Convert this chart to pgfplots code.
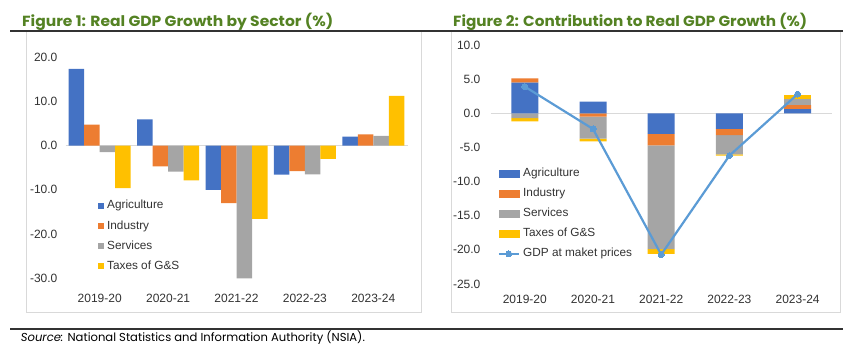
\documentclass[border=0pt]{standalone}
\usepackage{pgfplots}
\pgfplotsset{compat=1.18}
\usepackage{fontspec}
\setmainfont{Liberation Sans}
\newfontfamily\titlefont{Poppins}
\definecolor{cAgri}{RGB}{68,114,196}
\definecolor{cInd}{RGB}{237,125,49}
\definecolor{cSer}{RGB}{165,165,165}
\definecolor{cTax}{RGB}{255,192,0}
\definecolor{cGDP}{RGB}{91,155,213}
\definecolor{cTitle}{RGB}{84,130,35}
\definecolor{cFrame}{RGB}{217,217,217}
\definecolor{cText}{RGB}{50,50,50}
\definecolor{cRule}{RGB}{50,50,50}
\pgfplotsset{
  chartbase/.style={
    scale only axis,
    xmin=-0.5, xmax=4.5,
    axis line style={draw=none},
    tick style={draw=none},
    xtick={0,1,2,3,4},
    xticklabels={2019-20,2020-21,2021-22,2022-23,2023-24},
    ticklabel style={font=\fontsize{12}{14}\selectfont, text=cText},
    xticklabel style={yshift=-8pt},
    extra y ticks={0},
    extra y tick labels={},
    extra y tick style={ymajorgrids=true, major grid style={cFrame, line width=1pt}},
    legend cell align=left,
  },
  sq/.style={legend image code/.code={\fill[#1] (0pt,-3pt) rectangle (6pt,3pt);}},
  rect/.style={legend image code/.code={\fill[#1] (0pt,-3.5pt) rectangle (20pt,3.5pt);}},
  lineleg/.style={legend image code/.code={\draw[mark repeat=2,mark phase=2,##1] plot coordinates {(0pt,0pt) (10pt,0pt) (20pt,0pt)};}},
}
\begin{document}
\begin{tikzpicture}[x=1pt,y=1pt]
\path[use as bounding box] (0,0) rectangle (850,352);
% frames and rules
\draw[cFrame, line width=1pt] (26,321) rectangle (421,39);
\draw[cFrame, line width=1pt] (451,321) rectangle (840,39);
\draw[cRule, line width=1.5pt] (10,321) -- (843,321);
\draw[cRule, line width=2pt] (10,23) -- (843,23);
% titles
\node[anchor=base west, inner sep=0pt] at (22,325.3) {\resizebox{311pt}{13.4pt}{\titlefont\bfseries\color{cTitle}Figure 1: Real GDP Growth by Sector (\%)}};
\node[anchor=base west, inner sep=0pt] at (453,325.3) {\resizebox{354pt}{13.4pt}{\titlefont\bfseries\color{cTitle}Figure 2: Contribution to Real GDP Growth (\%)}};
\node[anchor=base west, inner sep=0pt] at (20.7,10.3) {\resizebox{344pt}{10.8pt}{\titlefont\color{black}\textit{Source:} National Statistics and Information Authority (NSIA).}};

% ---------------- Figure 1 ----------------
\begin{axis}[chartbase,
  at={(65.5pt,73.7pt)}, anchor=south west,
  width=342pt, height=221.3pt,
  ymin=-30, ymax=20,
  ytick={-30,-20,-10,0,10,20},
  yticklabels={-30.0,-20.0,-10.0,0.0,10.0,20.0},
  yticklabel style={xshift=-4.6pt},
  ybar=0pt, bar width=15.5pt,
  legend style={at={(0.094,0.352)}, anchor=north west, draw=none, fill=none,
    inner sep=0pt, outer sep=0pt, font=\fontsize{11.8}{14}\selectfont, text=cText,
    row sep=9.2pt, nodes={inner sep=0pt, text height=8.5pt, text depth=2.5pt},
    /tikz/every odd column/.append style={column sep=3.5pt}},
]
\addplot[fill=cAgri, draw=none, sq=cAgri] coordinates {(0,17.3) (1,5.9) (2,-10.0) (3,-6.6) (4,2.0)};
\addlegendentry{Agriculture}
\addplot[fill=cInd, draw=none, sq=cInd] coordinates {(0,4.7) (1,-4.7) (2,-13.0) (3,-5.8) (4,2.5)};
\addlegendentry{Industry}
\addplot[fill=cSer, draw=none, sq=cSer] coordinates {(0,-1.5) (1,-5.9) (2,-30.0) (3,-6.5) (4,2.2)};
\addlegendentry{Services}
\addplot[fill=cTax, draw=none, sq=cTax] coordinates {(0,-9.6) (1,-7.9) (2,-16.6) (3,-3.0) (4,11.2)};
\addlegendentry{Taxes of G\&S}
\end{axis}

% ---------------- Figure 2 ----------------
% negative contributions (visible axis)
\begin{axis}[chartbase,
  at={(490.7pt,68pt)}, anchor=south west,
  width=341pt, height=239pt,
  ymin=-25, ymax=10,
  ytick={-25,-20,-15,-10,-5,0,5,10},
  yticklabels={-25.0,-20.0,-15.0,-10.0,-5.0,0.0,5.0,10.0},
  yticklabel style={xshift=-6.8pt},
  ybar stacked, bar width=27pt,
]
\addplot[fill=cAgri, draw=none] coordinates {(0,0) (1,0) (2,-3.0) (3,-2.3) (4,0)};
\addplot[fill=cInd, draw=none] coordinates {(0,0) (1,-0.5) (2,-1.7) (3,-0.9) (4,0)};
\addplot[fill=cSer, draw=none] coordinates {(0,-0.7) (1,-3.2) (2,-15.2) (3,-2.8) (4,0)};
\addplot[fill=cTax, draw=none] coordinates {(0,-0.5) (1,-0.4) (2,-0.7) (3,-0.2) (4,0)};
\end{axis}
% positive contributions
\begin{axis}[
  scale only axis, hide axis,
  at={(490.7pt,68pt)}, anchor=south west,
  width=341pt, height=239pt,
  xmin=-0.5, xmax=4.5, ymin=-25, ymax=10,
  ybar stacked, bar width=27pt,
]
\addplot[fill=cAgri, draw=none] coordinates {(0,4.5) (1,1.7) (2,0) (3,0) (4,0.6)};
\addplot[fill=cInd, draw=none] coordinates {(0,0.6) (1,0) (2,0) (3,0) (4,0.6)};
\addplot[fill=cSer, draw=none] coordinates {(0,0) (1,0) (2,0) (3,0) (4,0.9)};
\addplot[fill=cTax, draw=none] coordinates {(0,0) (1,0) (2,0) (3,0) (4,0.6)};
\end{axis}
% GDP line and legend
\begin{axis}[
  scale only axis, hide axis,
  at={(490.7pt,68pt)}, anchor=south west,
  width=341pt, height=239pt,
  xmin=-0.5, xmax=4.5, ymin=-25, ymax=10,
  legend cell align=left,
  legend style={at={(0.0205,0.485)}, anchor=north west, draw=none, fill=none,
    inner sep=0pt, outer sep=0pt, font=\fontsize{11.8}{14}\selectfont, text=cText,
    row sep=9.1pt, nodes={inner sep=0pt, text height=8.5pt, text depth=2.5pt},
    /tikz/every odd column/.append style={column sep=3.3pt}},
]
\addlegendimage{rect=cAgri}
\addlegendentry{Agriculture}
\addlegendimage{rect=cInd}
\addlegendentry{Industry}
\addlegendimage{rect=cSer}
\addlegendentry{Services}
\addlegendimage{rect=cTax}
\addlegendentry{Taxes of G\&S}
\addplot[cGDP, line width=2.2pt, mark=*, mark size=3pt, mark options={fill=cGDP, draw=cGDP, line width=0pt}, lineleg]
  coordinates {(0,3.9) (1,-2.3) (2,-20.7) (3,-6.2) (4,2.8)};
\addlegendentry{GDP at maket prices}
\end{axis}
\end{tikzpicture}
\end{document}
